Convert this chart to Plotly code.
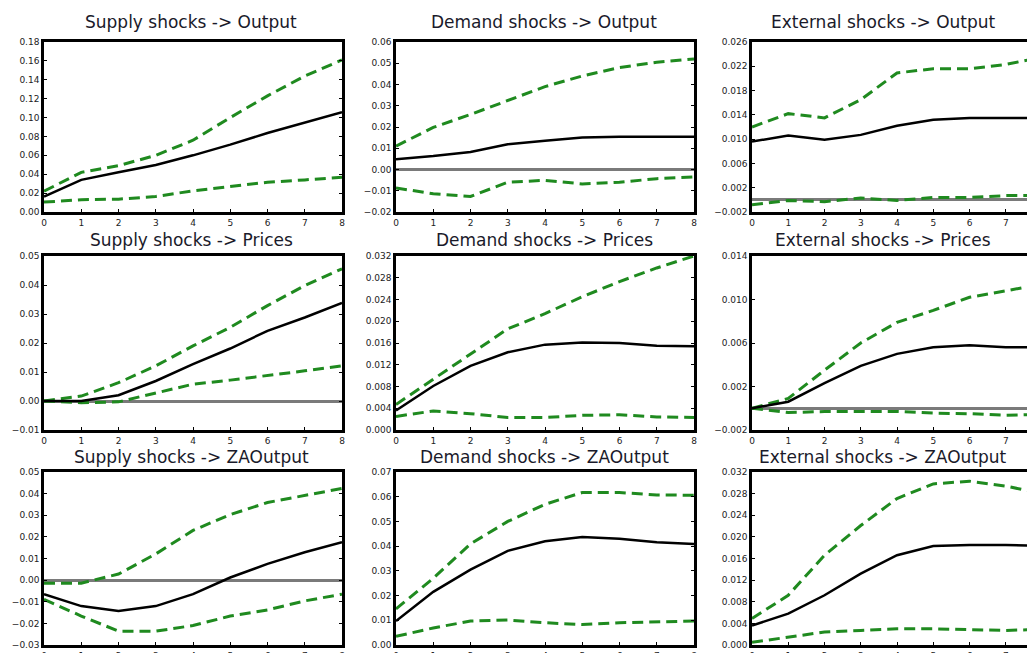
import plotly.graph_objects as go

W, H = 1035, 653
OFF = 8  # page body margin shifts the figure by 8px in the screenshot

horizon = [0, 1, 2, 3, 4, 5, 6, 7, 8]
tick_x = [0, 1, 2, 3, 4, 5, 6, 7, 8]

# Row 1: -> Output
sup_out_mid = [0.0164, 0.034, 0.042, 0.0497, 0.060, 0.0713, 0.0836, 0.095, 0.1056]
sup_out_hi = [0.022, 0.042, 0.049, 0.060, 0.076, 0.100, 0.123, 0.144, 0.161]
sup_out_lo = [0.0105, 0.013, 0.0136, 0.0164, 0.0224, 0.0269, 0.0315, 0.034, 0.0367]

dem_out_mid = [0.0048, 0.0063, 0.0082, 0.0119, 0.0135, 0.015, 0.0154, 0.0154, 0.0154]
dem_out_hi = [0.011, 0.0198, 0.0259, 0.0325, 0.039, 0.044, 0.048, 0.0505, 0.052]
dem_out_lo = [-0.0087, -0.0114, -0.0127, -0.006, -0.0051, -0.0068, -0.006, -0.0043, -0.0035]

ext_out_mid = [0.0096, 0.0106, 0.0099, 0.0107, 0.0122, 0.0132, 0.0135, 0.0135, 0.0135]
ext_out_hi = [0.012, 0.0142, 0.0135, 0.0165, 0.0209, 0.0216, 0.0216, 0.0223, 0.0235]
ext_out_lo = [-0.0008, -0.0001, -0.0003, 0.0003, -0.0001, 0.0004, 0.0004, 0.0007, 0.0007]

# Row 2: -> Prices
sup_pri_mid = [0.0, 0.0, 0.002, 0.0069, 0.0127, 0.0181, 0.0242, 0.0288, 0.0338]
sup_pri_hi = [0.0, 0.0017, 0.0063, 0.0121, 0.019, 0.0254, 0.0329, 0.0398, 0.0456]
sup_pri_lo = [0.0, -0.0006, -0.0003, 0.0027, 0.0058, 0.0072, 0.0087, 0.0104, 0.0121]

dem_pri_mid = [0.0036, 0.0081, 0.0118, 0.0143, 0.0157, 0.0161, 0.016, 0.0155, 0.0154]
dem_pri_hi = [0.0047, 0.0093, 0.014, 0.0186, 0.0214, 0.0245, 0.0273, 0.0298, 0.032]
dem_pri_lo = [0.0025, 0.0035, 0.003, 0.0023, 0.0023, 0.0027, 0.0028, 0.0024, 0.0023]

ext_pri_mid = [0.0, 0.0006, 0.0023, 0.0039, 0.005, 0.0056, 0.0058, 0.0056, 0.0056]
ext_pri_hi = [0.0, 0.0009, 0.0035, 0.006, 0.0079, 0.009, 0.0102, 0.0108, 0.0114]
ext_pri_lo = [0.0, -0.0004, -0.0003, -0.0003, -0.0003, -0.00045, -0.0005, -0.00065, -0.00055]

# Row 3: -> ZAOutput
sup_za_mid = [-0.0065, -0.012, -0.0143, -0.012, -0.0065, 0.0012, 0.0075, 0.0129, 0.0175]
sup_za_hi = [-0.0014, -0.0014, 0.0028, 0.0121, 0.023, 0.0303, 0.0359, 0.039, 0.0424]
sup_za_lo = [-0.0089, -0.0166, -0.0236, -0.0236, -0.021, -0.0166, -0.0138, -0.0096, -0.0065]

dem_za_mid = [0.0097, 0.0215, 0.0305, 0.0381, 0.042, 0.0437, 0.043, 0.0416, 0.0409]
dem_za_hi = [0.0146, 0.027, 0.0409, 0.05, 0.0569, 0.0617, 0.0617, 0.0607, 0.0606]
dem_za_lo = [0.0035, 0.0069, 0.0097, 0.0101, 0.009, 0.0083, 0.009, 0.0093, 0.0097]

ext_za_mid = [0.0036, 0.0058, 0.0092, 0.0132, 0.0166, 0.0183, 0.0185, 0.0185, 0.0183]
ext_za_hi = [0.0049, 0.0092, 0.0166, 0.0221, 0.0271, 0.0298, 0.0303, 0.0294, 0.028]
ext_za_lo = [0.0005, 0.0014, 0.0024, 0.0027, 0.003, 0.003, 0.0029, 0.0027, 0.0029]

titles = [
    "Supply shocks -> Output", "Demand shocks -> Output", "External shocks -> Output",
    "Supply shocks -> Prices", "Demand shocks -> Prices", "External shocks -> Prices",
    "Supply shocks -> ZAOutput", "Demand shocks -> ZAOutput", "External shocks -> ZAOutput",
]

y_ticks = [
    [0.00, 0.02, 0.04, 0.06, 0.08, 0.10, 0.12, 0.14, 0.16, 0.18],
    [-0.02, -0.01, 0.00, 0.01, 0.02, 0.03, 0.04, 0.05, 0.06],
    [-0.002, 0.002, 0.006, 0.010, 0.014, 0.018, 0.022, 0.026],
    [-0.01, 0.00, 0.01, 0.02, 0.03, 0.04, 0.05],
    [0.000, 0.004, 0.008, 0.012, 0.016, 0.020, 0.024, 0.028, 0.032],
    [-0.002, 0.002, 0.006, 0.010, 0.014],
    [-0.03, -0.02, -0.01, 0.00, 0.01, 0.02, 0.03, 0.04, 0.05],
    [0.00, 0.01, 0.02, 0.03, 0.04, 0.05, 0.06, 0.07],
    [0.000, 0.004, 0.008, 0.012, 0.016, 0.020, 0.024, 0.028, 0.032],
]
y_fmt = [".2f", ".2f", ".3f", ".2f", ".3f", ".3f", ".2f", ".2f", ".3f"]

series = [
    (sup_out_mid, sup_out_hi, sup_out_lo), (dem_out_mid, dem_out_hi, dem_out_lo), (ext_out_mid, ext_out_hi, ext_out_lo),
    (sup_pri_mid, sup_pri_hi, sup_pri_lo), (dem_pri_mid, dem_pri_hi, dem_pri_lo), (ext_pri_mid, ext_pri_hi, ext_pri_lo),
    (sup_za_mid, sup_za_hi, sup_za_lo), (dem_za_mid, dem_za_hi, dem_za_lo), (ext_za_mid, ext_za_hi, ext_za_lo),
]

# target pixel layout in the screenshot
col_px = [(44, 342), (396, 694), (752, 1042)]
row_px = [(42, 212), (256, 430), (472, 645)]
title_cx = [191, 544, 883]
title_cy = [22, 240, 457]


def fx(p):
    return min(max((p - OFF) / W, 0.0), 1.0)


def fy(p):
    return min(max(1 - (p - OFF) / H, 0.0), 1.0)


GREEN = "#1f8a1f"
TICKFONT = dict(family="DejaVu Sans, Verdana", size=9, color="#222")
fig = go.Figure()
layout = {}
annotations = []
for i in range(9):
    r, c = divmod(i, 3)
    n = i + 1
    xa = "xaxis" if n == 1 else f"xaxis{n}"
    ya = "yaxis" if n == 1 else f"yaxis{n}"
    xr = "x" if n == 1 else f"x{n}"
    yr = "y" if n == 1 else f"y{n}"
    mid, hi, lo = series[i]
    for vals in (hi, lo):
        fig.add_trace(go.Scatter(x=horizon, y=vals, mode="lines", xaxis=xr, yaxis=yr,
                                 line=dict(color=GREEN, width=3, dash="11px,6px"),
                                 showlegend=False, hoverinfo="skip"))
    fig.add_trace(go.Scatter(x=horizon, y=mid, mode="lines", xaxis=xr, yaxis=yr,
                             line=dict(color="black", width=2.5),
                             showlegend=False, hoverinfo="skip"))
    yt = y_ticks[i]
    layout[xa] = dict(
        domain=[fx(col_px[c][0]), fx(col_px[c][1])],
        anchor=yr, range=[0, 8], tickvals=tick_x,
        showgrid=False, zeroline=False, showline=True, linecolor="black", linewidth=2.5,
        mirror=True, ticks="inside", ticklen=3, tickcolor="black",
        tickfont=TICKFONT, automargin=False, fixedrange=True,
    )
    layout[ya] = dict(
        domain=[fy(row_px[r][1]), fy(row_px[r][0])],
        anchor=xr, range=[yt[0], yt[-1]], tickvals=yt, tickformat=y_fmt[i],
        showgrid=False, zeroline=True, zerolinecolor="#7a7a7a", zerolinewidth=2.5,
        showline=True, linecolor="black", linewidth=2.5,
        mirror="ticks", ticks="inside", ticklen=3, tickcolor="black",
        tickfont=TICKFONT, automargin=False, fixedrange=True,
    )
    annotations.append(dict(
        text=titles[i], xref="paper", yref="paper",
        x=fx(title_cx[c]), y=fy(title_cy[r]), xanchor="center", yanchor="middle",
        showarrow=False, font=dict(family="DejaVu Sans, Verdana", size=17, color="#1a1a2a"),
    ))

fig.update_layout(
    width=W, height=H, margin=dict(l=0, r=0, t=0, b=0),
    paper_bgcolor="white", plot_bgcolor="white",
    annotations=annotations, showlegend=False,
    **layout,
)
fig.write_html("out.html")
